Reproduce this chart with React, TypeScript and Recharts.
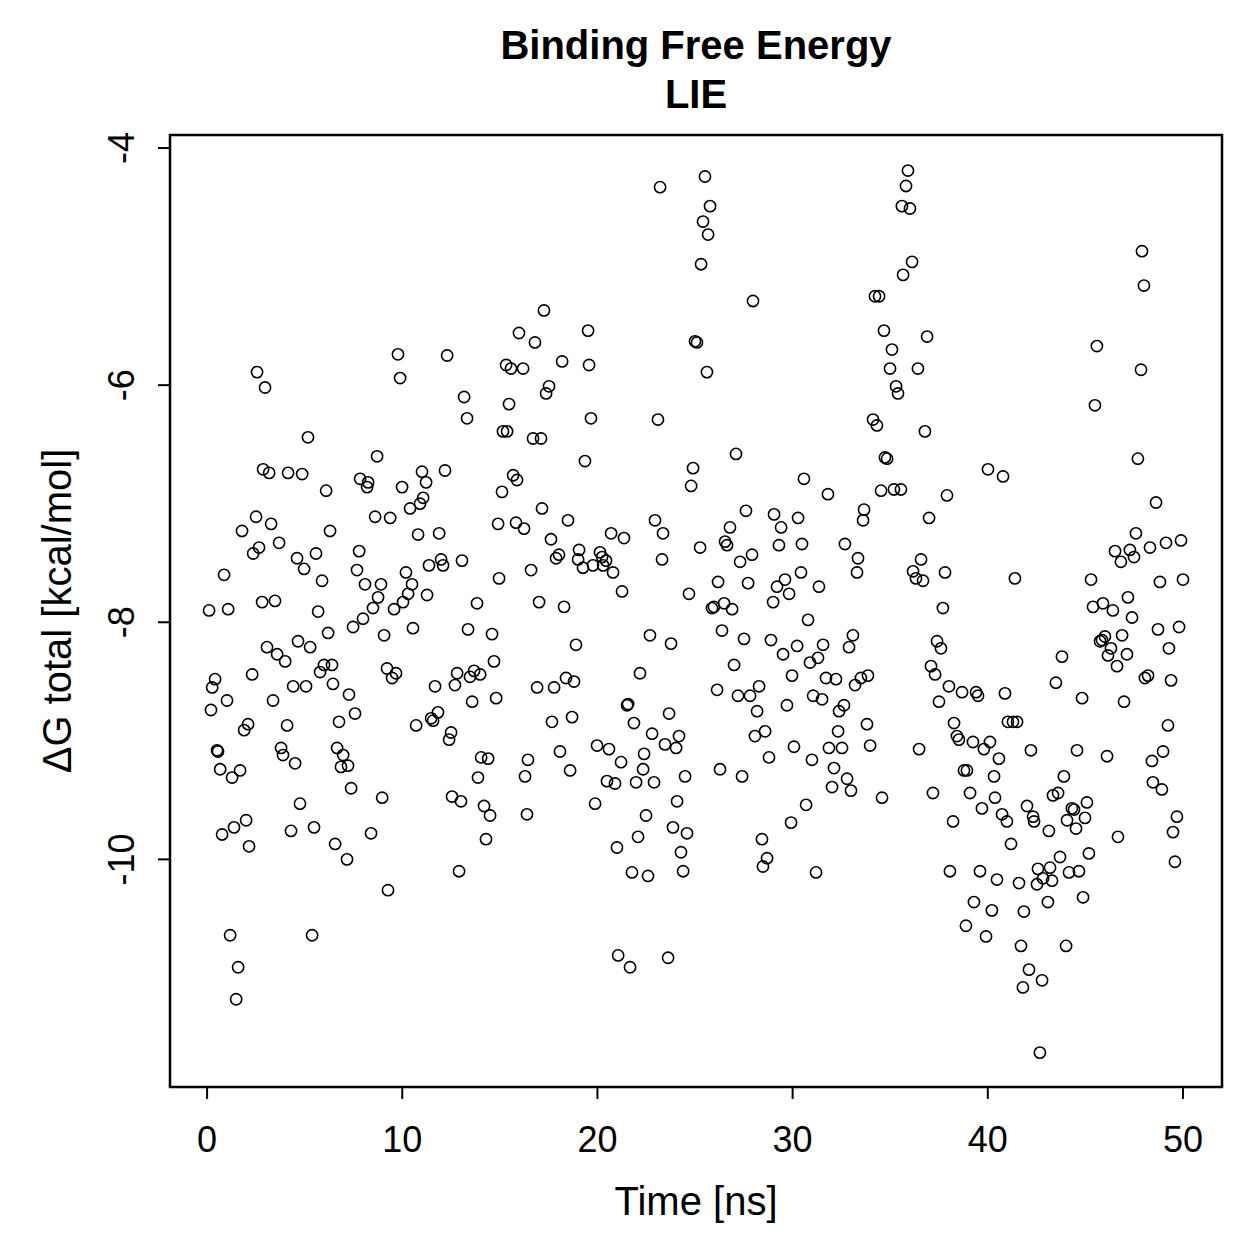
import React from 'react';
import { ScatterChart, Scatter, XAxis, YAxis, ReferenceArea } from 'recharts';

// [time (ns), ΔG total (kcal/mol)] grouped by time band
const band0to7: number[][] = [
  [2.56,-5.89],[2.97,-6.02],[5.17,-6.44],[2.87,-6.71],[3.18,-6.74],[4.15,-6.74],[4.87,-6.75],[6.10,-6.89],[2.51,-7.11],[1.79,-7.23],[3.28,-7.17],[6.30,-7.23],[2.66,-7.37],[2.36,-7.42],[3.69,-7.33],[4.61,-7.46],[5.58,-7.42],[4.97,-7.55],[0.87,-7.60],[5.89,-7.65],[2.82,-7.83],[3.48,-7.82],
  [0.10,-7.90],[1.08,-7.89],[5.69,-7.91],[6.20,-8.09],[4.66,-8.16],[5.28,-8.21],[3.07,-8.21],[3.59,-8.27],[4.00,-8.33],[0.41,-8.48],[0.26,-8.55],[2.31,-8.44],[5.99,-8.36],[6.40,-8.36],[5.79,-8.42],[4.41,-8.54],[5.07,-8.54],[6.45,-8.52],[1.02,-8.66],[0.20,-8.74],[3.38,-8.66],[2.10,-8.86],[1.90,-8.91],[4.10,-8.87],[6.76,-8.84],[0.51,-9.08],[0.56,-9.09],[3.79,-9.06],[3.89,-9.12],[4.51,-9.19],[6.66,-9.06],[6.97,-9.12],[6.86,-9.22],[0.67,-9.24],[1.28,-9.31],[1.69,-9.25],[4.76,-9.53],[0.77,-9.79],[1.38,-9.73],[2.00,-9.67],[2.15,-9.89],[4.30,-9.76],[5.48,-9.73],[6.56,-9.87],[1.18,-10.64],[5.38,-10.64],[1.59,-10.91],[1.49,-11.18],
];
const band7to16: number[][] = [
  [15.98,-5.56],[9.78,-5.74],[12.30,-5.75],[9.89,-5.94],[15.32,-5.83],[15.57,-5.86],[13.17,-6.10],[15.47,-6.16],[13.32,-6.28],[15.16,-6.39],[15.37,-6.39],[8.71,-6.60],[7.84,-6.79],[8.25,-6.82],[8.20,-6.86],[11.01,-6.73],[11.22,-6.82],[12.19,-6.72],[9.99,-6.86],[11.07,-6.95],[10.91,-7.00],[10.40,-7.04],[15.68,-6.76],[15.88,-6.80],[15.11,-6.90],[8.61,-7.11],[9.38,-7.12],[10.81,-7.26],[11.89,-7.25],[14.91,-7.17],[15.83,-7.16],[7.79,-7.40],[7.68,-7.56],[8.09,-7.68],[8.91,-7.68],[10.19,-7.58],[10.50,-7.68],[10.30,-7.76],[10.04,-7.83],[11.37,-7.52],[11.99,-7.47],[12.09,-7.52],[13.06,-7.48],[14.96,-7.63],[11.27,-7.77],[8.76,-7.79],[8.50,-7.88],[9.58,-7.89],[13.83,-7.84],
  [7.48,-8.04],[7.99,-7.97],[9.07,-8.11],[10.55,-8.05],[13.37,-8.06],[14.60,-8.10],[9.22,-8.39],[9.68,-8.43],[9.48,-8.47],[11.68,-8.54],[12.81,-8.43],[12.70,-8.53],[13.47,-8.46],[13.68,-8.41],[13.99,-8.44],[14.70,-8.33],[14.81,-8.64],[13.58,-8.67],[7.27,-8.61],[7.58,-8.77],[10.71,-8.87],[11.48,-8.81],[11.83,-8.76],[11.58,-8.83],[12.50,-8.93],[12.40,-8.99],[14.04,-9.14],[14.40,-9.15],[13.88,-9.31],[7.22,-9.21],[7.38,-9.40],[8.97,-9.48],[12.55,-9.47],[13.01,-9.51],[14.19,-9.55],[14.50,-9.63],[8.40,-9.78],[14.29,-9.83],[7.17,-10.00],[12.91,-10.10],[9.27,-10.26],
];
const band16to25: number[][] = [
  [23.21,-4.33],[17.26,-5.37],[16.80,-5.64],[19.52,-5.54],[16.19,-5.86],[18.19,-5.80],[19.57,-5.83],[17.52,-6.01],[17.37,-6.07],[19.67,-6.28],[23.10,-6.29],[16.70,-6.45],[17.11,-6.45],[19.36,-6.64],[24.90,-6.70],[24.80,-6.85],[17.16,-7.04],[18.49,-7.14],[16.24,-7.21],[17.62,-7.30],[22.95,-7.14],[23.36,-7.25],[20.70,-7.25],[21.36,-7.29],[17.88,-7.46],[18.03,-7.43],[19.06,-7.39],[19.01,-7.47],[19.26,-7.54],[20.13,-7.41],[19.77,-7.52],[20.24,-7.45],[20.44,-7.48],[20.29,-7.52],[20.80,-7.58],[16.60,-7.56],[23.31,-7.47],[21.26,-7.74],[24.69,-7.76],[17.01,-7.83],[18.29,-7.87],
  [22.69,-8.11],[23.77,-8.18],[18.90,-8.19],[22.18,-8.43],[16.91,-8.55],[17.78,-8.55],[18.39,-8.47],[18.80,-8.50],[21.52,-8.70],[21.57,-8.69],[23.67,-8.77],[17.67,-8.84],[18.70,-8.80],[21.87,-8.85],[22.80,-8.94],[23.46,-9.03],[24.18,-8.96],[24.03,-9.06],[19.98,-9.04],[20.59,-9.07],[22.39,-9.11],[21.21,-9.18],[22.34,-9.24],[18.08,-9.09],[16.44,-9.16],[16.29,-9.30],[18.60,-9.25],[20.49,-9.34],[20.90,-9.36],[21.98,-9.35],[22.90,-9.35],[24.49,-9.30],[24.08,-9.51],[19.88,-9.53],[16.39,-9.62],[22.49,-9.63],[23.87,-9.73],[24.59,-9.78],[22.08,-9.81],[21.00,-9.90],[24.28,-9.94],[21.77,-10.11],[22.59,-10.14],[24.39,-10.10],[21.06,-10.81],[21.67,-10.91],[23.62,-10.83],
];
const band25to34: number[][] = [
  [25.51,-4.24],[25.77,-4.49],[25.41,-4.62],[25.67,-4.73],[25.31,-4.98],[27.97,-5.29],[25.00,-5.63],[25.10,-5.64],[25.61,-5.89],[27.10,-6.58],[30.58,-6.79],[31.81,-6.92],[27.61,-7.06],[29.05,-7.09],[29.41,-7.20],[30.28,-7.12],[33.66,-7.05],[33.61,-7.14],[26.79,-7.20],[26.54,-7.32],[26.64,-7.35],[25.26,-7.37],[29.30,-7.35],[30.48,-7.34],[32.68,-7.34],[27.92,-7.43],[27.31,-7.49],[33.35,-7.46],[33.30,-7.58],[26.18,-7.66],[27.72,-7.67],[29.61,-7.64],[29.20,-7.70],[29.82,-7.76],[30.43,-7.58],[31.35,-7.70],[29.00,-7.83],[25.87,-7.88],[25.97,-7.87],[26.49,-7.84],[26.90,-7.89],
  [30.79,-7.98],[26.38,-8.07],[27.51,-8.14],[28.89,-8.15],[30.23,-8.20],[29.51,-8.27],[31.56,-8.19],[33.09,-8.11],[32.89,-8.21],[27.00,-8.36],[30.89,-8.34],[31.30,-8.30],[29.97,-8.45],[31.71,-8.47],[32.22,-8.48],[33.20,-8.53],[33.50,-8.47],[33.86,-8.45],[26.13,-8.57],[27.20,-8.62],[27.82,-8.62],[28.28,-8.54],[28.18,-8.75],[29.71,-8.70],[31.05,-8.62],[31.51,-8.65],[32.38,-8.75],[32.63,-8.70],[33.81,-8.86],[28.07,-8.96],[28.59,-8.92],[32.33,-8.92],[30.07,-9.05],[31.86,-9.06],[32.53,-9.06],[28.79,-9.14],[30.99,-9.16],[32.12,-9.23],[26.28,-9.24],[27.41,-9.30],[32.79,-9.32],[32.99,-9.42],[32.02,-9.39],[30.69,-9.54],[29.92,-9.69],[28.43,-9.83],[28.69,-9.99],[28.48,-10.06],[31.20,-10.11],
];
const band34to43: number[][] = [
  [35.91,-4.19],[35.81,-4.32],[35.60,-4.49],[36.01,-4.51],[36.12,-4.96],[35.66,-5.07],[34.22,-5.25],[34.43,-5.25],[34.68,-5.54],[36.89,-5.59],[35.09,-5.70],[34.99,-5.86],[36.42,-5.86],[35.30,-6.01],[35.40,-6.07],[34.12,-6.29],[34.32,-6.34],[36.78,-6.39],[34.73,-6.61],[34.84,-6.62],[40.01,-6.71],[40.78,-6.77],[34.53,-6.89],[35.19,-6.88],[35.55,-6.88],[37.91,-6.93],[36.99,-7.12],[36.58,-7.47],[36.17,-7.57],[36.32,-7.63],[36.68,-7.65],[37.81,-7.58],[41.39,-7.63],[37.70,-7.88],
  [37.40,-8.16],[37.60,-8.22],[37.09,-8.37],[37.30,-8.44],[38.01,-8.54],[38.68,-8.59],[39.40,-8.59],[39.50,-8.62],[40.88,-8.60],[37.50,-8.67],[33.97,-9.04],[38.27,-8.85],[38.42,-8.96],[38.52,-8.99],[39.24,-9.01],[39.80,-9.07],[40.11,-9.01],[40.57,-9.15],[41.03,-8.84],[41.29,-8.84],[41.50,-8.84],[36.48,-9.07],[42.21,-9.08],[38.78,-9.25],[38.93,-9.25],[40.32,-9.30],[34.58,-9.48],[37.19,-9.44],[39.09,-9.44],[39.70,-9.57],[40.37,-9.48],[40.73,-9.62],[40.98,-9.68],[38.22,-9.68],[42.01,-9.55],[42.32,-9.64],[42.37,-9.68],[41.19,-9.87],[38.06,-10.10],[39.60,-10.10],[40.47,-10.17],[41.60,-10.20],[42.57,-10.08],[42.52,-10.21],[42.83,-10.16],[39.29,-10.36],[40.21,-10.43],[41.85,-10.44],[38.88,-10.56],[39.91,-10.65],[41.70,-10.73],[42.11,-10.93],[42.78,-11.02],[41.80,-11.08],[42.67,-11.63],
];
const band43to50: number[][] = [
  [47.90,-4.87],[48.00,-5.16],[45.59,-5.67],[47.85,-5.87],[45.49,-6.17],[47.69,-6.62],[48.62,-6.99],[47.59,-7.25],[46.52,-7.40],[46.82,-7.49],[47.28,-7.39],[47.49,-7.45],[48.31,-7.37],[49.13,-7.33],[49.90,-7.31],[45.29,-7.64],[48.82,-7.66],[50.00,-7.64],[47.18,-7.79],[45.39,-7.87],[45.90,-7.84],[46.41,-7.90],[47.39,-7.96],
  [48.72,-8.06],[49.80,-8.04],[46.88,-8.11],[45.75,-8.16],[45.85,-8.15],[46.00,-8.12],[46.31,-8.22],[46.16,-8.28],[47.13,-8.27],[46.62,-8.37],[49.28,-8.22],[43.80,-8.29],[43.49,-8.51],[44.83,-8.64],[46.98,-8.67],[48.05,-8.47],[48.21,-8.45],[49.39,-8.49],[49.23,-8.87],[44.57,-9.08],[46.11,-9.13],[48.41,-9.17],[48.98,-9.09],[43.90,-9.30],[43.34,-9.46],[43.60,-9.44],[48.46,-9.35],[48.92,-9.41],[45.08,-9.52],[44.31,-9.57],[44.42,-9.58],[44.06,-9.67],[44.52,-9.74],[44.98,-9.65],[43.13,-9.76],[46.67,-9.81],[49.69,-9.64],[49.49,-9.77],[49.59,-10.02],[43.70,-9.98],[45.18,-9.95],[43.19,-10.07],[43.29,-10.18],[44.16,-10.11],[44.67,-10.10],[43.08,-10.36],[44.88,-10.32],[44.01,-10.73],
];

const xTicks = [0, 10, 20, 30, 40, 50];
const yTicks = [-10, -8, -6, -4];
const xDomain = [-1.9, 52.0];
const yDomain = [-11.92, -3.89];

const FONT = '"Liberation Sans", Arial, Helvetica, sans-serif';

const data = [...band0to7, ...band7to16, ...band16to25, ...band25to34, ...band34to43, ...band43to50].map(
  ([t, g]) => ({ t, g })
);

const XTick = (props: any) => {
  const { x, y, payload } = props;
  return (
    <text x={x} y={y + 51} textAnchor="middle" fontSize={36} fontFamily={FONT} fill="#000">
      {payload.value}
    </text>
  );
};

const YTick = (props: any) => {
  const { x, y, payload } = props;
  const bx = x - 22;
  return (
    <text
      x={bx}
      y={y}
      transform={`rotate(-90 ${bx} ${y})`}
      textAnchor="middle"
      fontSize={36}
      fontFamily={FONT}
      fill="#000"
    >
      {String(payload.value)}
    </text>
  );
};

const Ring = (props: any) => {
  const { cx, cy } = props;
  if (cx == null || cy == null) return null;
  return <circle cx={cx} cy={cy} r={5.6} fill="none" stroke="#000" strokeWidth={1.6} />;
};

export default function App() {
  return (
    <div style={{ position: 'absolute', left: 0, top: 0, width: 1259, height: 1259, background: '#fff' }}>
      <ScatterChart
        width={1259}
        height={1259}
        margin={{ top: 135, right: 37, bottom: 92, left: 70 }}
      >
        <XAxis
          type="number"
          dataKey="t"
          domain={xDomain}
          ticks={xTicks}
          allowDataOverflow
          axisLine={false}
          tickSize={12}
          tickMargin={2}
          height={80}
          tickLine={{ stroke: '#000', strokeWidth: 2 }}
          tick={<XTick />}
        />
        <YAxis
          type="number"
          dataKey="g"
          domain={yDomain}
          ticks={yTicks}
          allowDataOverflow
          axisLine={false}
          tickSize={12}
          tickMargin={2}
          width={100}
          tickLine={{ stroke: '#000', strokeWidth: 2 }}
          tick={<YTick />}
        />
        <ReferenceArea
          x1={xDomain[0]}
          x2={xDomain[1]}
          y1={yDomain[0]}
          y2={yDomain[1]}
          fill="none"
          fillOpacity={0}
          stroke="#000"
          strokeWidth={2.5}
          ifOverflow="visible"
        />
        <Scatter data={data} isAnimationActive={false} shape={<Ring />} />
      </ScatterChart>
      <svg
        width={1259}
        height={1259}
        style={{ position: 'absolute', left: 0, top: 0, pointerEvents: 'none' }}
      >
        <text x={696} y={59} textAnchor="middle" fontSize={40} fontWeight="bold" fontFamily={FONT}>
          Binding Free Energy
        </text>
        <text x={696} y={108} textAnchor="middle" fontSize={40} fontWeight="bold" fontFamily={FONT}>
          LIE
        </text>
        <text x={696} y={1215} textAnchor="middle" fontSize={40} fontFamily={FONT}>
          Time [ns]
        </text>
        <text
          x={71}
          y={611}
          transform="rotate(-90 71 611)"
          textAnchor="middle"
          fontSize={40}
          fontFamily={FONT}
        >
          ΔG total [kcal/mol]
        </text>
      </svg>
    </div>
  );
}
